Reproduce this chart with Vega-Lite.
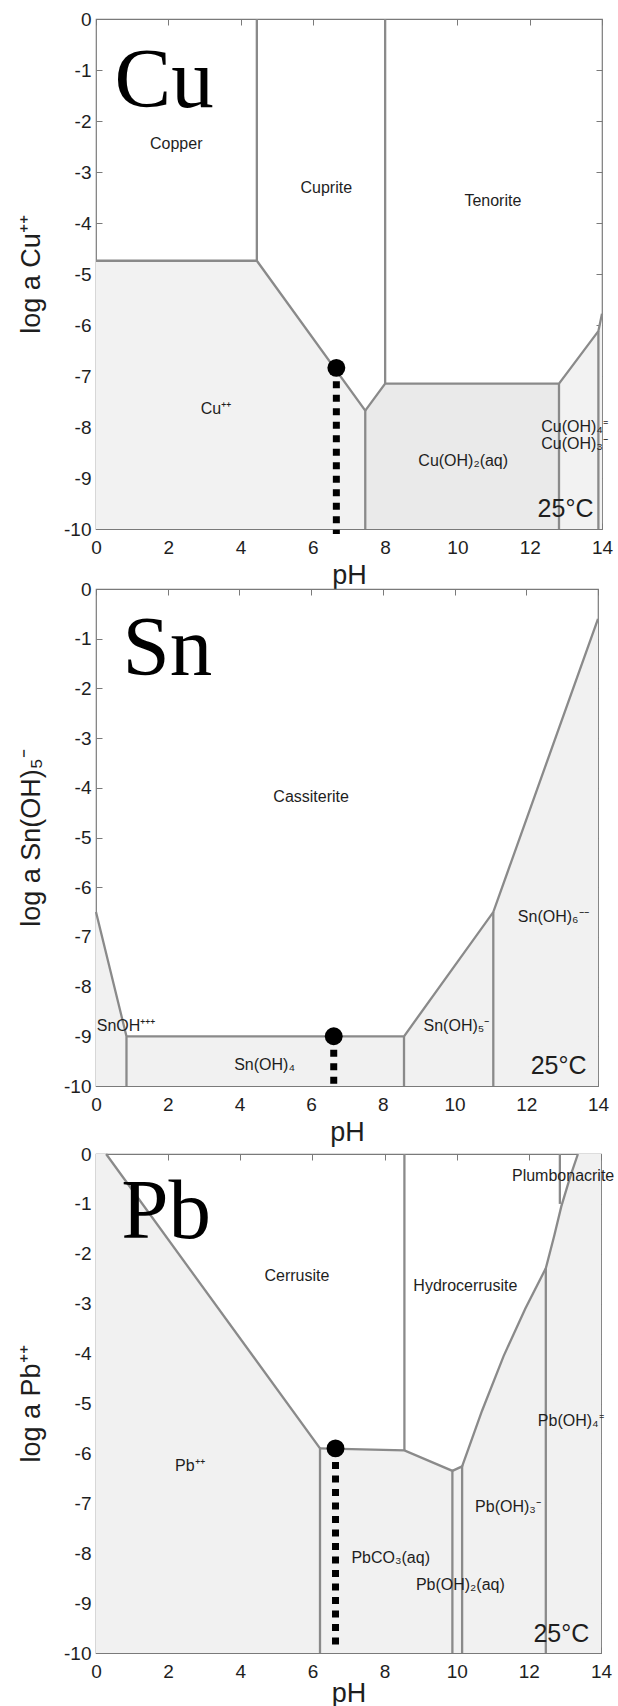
{
  "$schema": "https://vega.github.io/schema/vega-lite/v6.json",
  "background": "white",
  "padding": {"left": 16, "top": 9, "right": 0, "bottom": 0},
  "spacing": -19,
  "config": {
    "view": {"stroke": "#7a7a7a", "strokeWidth": 1.2},
    "axis": {
      "labelFont": "Liberation Sans", "labelFontSize": 19, "labelColor": "#1e1e1e",
      "titleFont": "Liberation Sans", "titleFontSize": 27, "titleFontWeight": "normal", "titleColor": "#1e1e1e",
      "tickColor": "#7a7a7a", "tickSize": -6, "tickWidth": 1, "grid": false, "domain": false,
      "labelFlush": false, "labelOverlap": false
    },
    "axisBottom": {"labelPadding": 15, "titlePadding": 5},
    "axisLeft": {"labelPadding": 11, "titlePadding": 18},
    "text": {"font": "Liberation Sans", "fontSize": 16, "color": "#1e1e1e"}
  },
  "datasets": {
    "cu_aq": [
      {"region": "Cu++", "x": 0, "y": -4.74},
      {"region": "Cu++", "x": 4.45, "y": -4.74},
      {"region": "Cu++", "x": 7.45, "y": -7.68},
      {"region": "Cu(OH)3-", "x": 12.81, "y": -7.15},
      {"region": "Cu(OH)3-", "x": 13.9, "y": -6.12},
      {"region": "Cu(OH)4--", "x": 13.9, "y": -6.12},
      {"region": "Cu(OH)4--", "x": 14, "y": -5.78}
    ],
    "cu_aq2": [
      {"region": "Cu(OH)2(aq)", "x": 7.45, "y": -7.68},
      {"region": "Cu(OH)2(aq)", "x": 8.0, "y": -7.15},
      {"region": "Cu(OH)2(aq)", "x": 12.81, "y": -7.15}
    ],
    "cu_lines": [
      {"seg": 1, "i": 0, "x": 0, "y": -4.74},
      {"seg": 1, "i": 1, "x": 4.45, "y": -4.74},
      {"seg": 1, "i": 2, "x": 7.45, "y": -7.68},
      {"seg": 1, "i": 3, "x": 7.45, "y": -10},
      {"seg": 2, "i": 0, "x": 4.45, "y": 0},
      {"seg": 2, "i": 1, "x": 4.45, "y": -4.74},
      {"seg": 3, "i": 0, "x": 7.45, "y": -7.68},
      {"seg": 3, "i": 1, "x": 8.0, "y": -7.15},
      {"seg": 3, "i": 2, "x": 12.81, "y": -7.15},
      {"seg": 3, "i": 3, "x": 13.9, "y": -6.12},
      {"seg": 3, "i": 4, "x": 14, "y": -5.78},
      {"seg": 4, "i": 0, "x": 8.0, "y": 0},
      {"seg": 4, "i": 1, "x": 8.0, "y": -7.15},
      {"seg": 5, "i": 0, "x": 12.81, "y": -7.15},
      {"seg": 5, "i": 1, "x": 12.81, "y": -10},
      {"seg": 6, "i": 0, "x": 13.9, "y": -6.12},
      {"seg": 6, "i": 1, "x": 13.9, "y": -10}
    ],
    "cu_dot": [{"x": 6.65, "y": -6.84, "y2": -10.1}],
    "cu_labels": [
      {"x": 2.22, "y": -2.45, "label": "Copper"},
      {"x": 6.37, "y": -3.32, "label": "Cuprite"},
      {"x": 10.98, "y": -3.56, "label": "Tenorite"},
      {"x": 3.32, "y": -7.64, "label": "Cu⁺⁺"},
      {"x": 10.16, "y": -8.66, "label": "Cu(OH)₂(aq)"},
      {"x": 13.24, "y": -8.0, "label": "Cu(OH)₄⁼"},
      {"x": 13.24, "y": -8.33, "label": "Cu(OH)₃⁻"}
    ],
    "cu_sym": [{"x": 0.51, "y": -1.73, "label": "Cu"}],
    "cu_t": [{"x": 12.99, "y": -9.6, "label": "25°C"}],

    "sn_aq": [
      {"region": "SnOH+++", "x": 0, "y": -6.5},
      {"region": "SnOH+++", "x": 0.85, "y": -9.0},
      {"region": "Sn(OH)4", "x": 0.85, "y": -9.0},
      {"region": "Sn(OH)4", "x": 8.59, "y": -9.0},
      {"region": "Sn(OH)5-", "x": 8.59, "y": -9.0},
      {"region": "Sn(OH)5-", "x": 11.08, "y": -6.5},
      {"region": "Sn(OH)6--", "x": 11.08, "y": -6.5},
      {"region": "Sn(OH)6--", "x": 14, "y": -0.6}
    ],
    "sn_lines": [
      {"seg": 1, "i": 0, "x": 0, "y": -6.5},
      {"seg": 1, "i": 1, "x": 0.85, "y": -9.0},
      {"seg": 1, "i": 2, "x": 0.85, "y": -10},
      {"seg": 2, "i": 0, "x": 0.85, "y": -9.0},
      {"seg": 2, "i": 1, "x": 8.59, "y": -9.0},
      {"seg": 2, "i": 2, "x": 11.08, "y": -6.5},
      {"seg": 2, "i": 3, "x": 14, "y": -0.6},
      {"seg": 3, "i": 0, "x": 8.59, "y": -9.0},
      {"seg": 3, "i": 1, "x": 8.59, "y": -10},
      {"seg": 4, "i": 0, "x": 11.08, "y": -6.5},
      {"seg": 4, "i": 1, "x": 11.08, "y": -10}
    ],
    "sn_dot": [{"x": 6.63, "y": -9.0, "y2": -10.0}],
    "sn_labels": [
      {"x": 6.0, "y": -4.18, "label": "Cassiterite"},
      {"x": 4.7, "y": -9.57, "label": "Sn(OH)₄"},
      {"x": 10.05, "y": -8.8, "label": "Sn(OH)₅⁻"},
      {"x": 12.75, "y": -6.6, "label": "Sn(OH)₆⁻⁻"}
    ],
    "sn_left": [{"x": 0.02, "y": -8.8, "label": "SnOH⁺⁺⁺"}],
    "sn_sym": [{"x": 0.74, "y": -1.74, "label": "Sn"}],
    "sn_t": [{"x": 12.9, "y": -9.6, "label": "25°C"}],

    "pb_aq": [
      {"region": "Pb++", "x": 0, "y": 0},
      {"region": "Pb++", "x": 0.28, "y": 0},
      {"region": "Pb++", "x": 6.21, "y": -5.9},
      {"region": "PbCO3(aq)", "x": 6.21, "y": -5.9},
      {"region": "PbCO3(aq)", "x": 8.55, "y": -5.94},
      {"region": "PbCO3(aq)", "x": 9.88, "y": -6.35},
      {"region": "Pb(OH)2(aq)", "x": 9.88, "y": -6.35},
      {"region": "Pb(OH)2(aq)", "x": 10.15, "y": -6.26},
      {"region": "Pb(OH)3-", "x": 10.15, "y": -6.26},
      {"region": "Pb(OH)3-", "x": 10.7, "y": -5.15},
      {"region": "Pb(OH)3-", "x": 11.3, "y": -4.05},
      {"region": "Pb(OH)3-", "x": 11.9, "y": -3.1},
      {"region": "Pb(OH)3-", "x": 12.47, "y": -2.29},
      {"region": "Pb(OH)4--", "x": 12.47, "y": -2.29},
      {"region": "Pb(OH)4--", "x": 12.7, "y": -1.65},
      {"region": "Pb(OH)4--", "x": 12.9, "y": -1.05},
      {"region": "Pb(OH)4--", "x": 13.15, "y": -0.45},
      {"region": "Pb(OH)4--", "x": 13.36, "y": 0},
      {"region": "Pb(OH)4--", "x": 14, "y": 0}
    ],
    "pb_lines": [
      {"seg": 1, "i": 0, "x": 0.28, "y": 0},
      {"seg": 1, "i": 1, "x": 6.21, "y": -5.9},
      {"seg": 1, "i": 2, "x": 6.21, "y": -10},
      {"seg": 2, "i": 0, "x": 6.21, "y": -5.9},
      {"seg": 2, "i": 1, "x": 8.55, "y": -5.94},
      {"seg": 2, "i": 2, "x": 9.88, "y": -6.35},
      {"seg": 2, "i": 3, "x": 9.88, "y": -10},
      {"seg": 3, "i": 0, "x": 8.55, "y": 0},
      {"seg": 3, "i": 1, "x": 8.55, "y": -5.94},
      {"seg": 4, "i": 0, "x": 9.88, "y": -6.35},
      {"seg": 4, "i": 1, "x": 10.15, "y": -6.26},
      {"seg": 4, "i": 2, "x": 10.15, "y": -10},
      {"seg": 5, "i": 0, "x": 10.15, "y": -6.26},
      {"seg": 5, "i": 1, "x": 10.7, "y": -5.15},
      {"seg": 5, "i": 2, "x": 11.3, "y": -4.05},
      {"seg": 5, "i": 3, "x": 11.9, "y": -3.1},
      {"seg": 5, "i": 4, "x": 12.47, "y": -2.29},
      {"seg": 5, "i": 5, "x": 12.7, "y": -1.65},
      {"seg": 5, "i": 6, "x": 12.9, "y": -1.05},
      {"seg": 5, "i": 7, "x": 13.15, "y": -0.45},
      {"seg": 5, "i": 8, "x": 13.36, "y": 0},
      {"seg": 6, "i": 0, "x": 12.47, "y": -2.29},
      {"seg": 6, "i": 1, "x": 12.47, "y": -10},
      {"seg": 7, "i": 0, "x": 12.86, "y": 0},
      {"seg": 7, "i": 1, "x": 12.86, "y": -1.0}
    ],
    "pb_dot": [{"x": 6.64, "y": -5.9, "y2": -9.85}],
    "pb_labels": [
      {"x": 5.57, "y": -2.44, "label": "Cerrusite"},
      {"x": 10.24, "y": -2.65, "label": "Hydrocerrusite"},
      {"x": 12.95, "y": -0.44, "label": "Plumbonacrite"},
      {"x": 13.16, "y": -5.36, "label": "Pb(OH)₄⁼"},
      {"x": 2.6, "y": -6.26, "label": "Pb⁺⁺"},
      {"x": 11.42, "y": -7.07, "label": "Pb(OH)₃⁻"},
      {"x": 8.17, "y": -8.1, "label": "PbCO₃(aq)"},
      {"x": 10.1, "y": -8.63, "label": "Pb(OH)₂(aq)"}
    ],
    "pb_sym": [{"x": 0.7, "y": -1.69, "label": "Pb"}],
    "pb_t": [{"x": 12.9, "y": -9.62, "label": "25°C"}]
  },
  "vconcat": [
    {
      "width": 506, "height": 510,
      "resolve": {"axis": {"x": "independent", "y": "independent"}},
      "layer": [
        {"data": {"name": "cu_aq"}, "mark": {"type": "area", "fill": "#f2f2f2"},
         "encoding": {
           "x": {"field": "x", "type": "quantitative", "scale": {"domain": [0, 14], "nice": false, "zero": false}, "axis": {"orient": "bottom", "values": [0,2,4,6,8,10,12,14], "title": "pH"}},
           "y": {"field": "y", "type": "quantitative", "stack": null, "scale": {"domain": [-10, 0], "nice": false, "zero": false}, "axis": {"orient": "left", "values": [0,-1,-2,-3,-4,-5,-6,-7,-8,-9,-10], "labelExpr": "'' + datum.value", "title": "log a Cu⁺⁺"}},
           "y2": {"datum": -10},
           "detail": {"field": "region"}
         }},
        {"data": {"name": "cu_aq2"}, "mark": {"type": "area", "fill": "#eaeaea"},
         "encoding": {
           "x": {"field": "x", "type": "quantitative", "axis": null},
           "y": {"field": "y", "type": "quantitative", "stack": null, "axis": null},
           "y2": {"datum": -10}
         }},
        {"data": {"name": "cu_lines"}, "mark": {"type": "line", "color": "#8a8a8a", "strokeWidth": 2.3},
         "encoding": {
           "x": {"field": "x", "type": "quantitative", "axis": {"orient": "top", "values": [0,2,4,6,8,10,12,14], "labels": false, "title": null}},
           "y": {"field": "y", "type": "quantitative", "axis": {"orient": "right", "values": [0,-1,-2,-3,-4,-5,-6,-7,-8,-9,-10], "labels": false, "title": null}},
           "detail": {"field": "seg"},
           "order": {"field": "i", "type": "quantitative"}
         }},
        {"data": {"name": "cu_dot"}, "mark": {"type": "rule", "color": "black", "strokeWidth": 7, "strokeDash": [7, 6.5]},
         "encoding": {"x": {"field": "x", "type": "quantitative", "axis": null}, "y": {"field": "y", "type": "quantitative", "axis": null}, "y2": {"field": "y2"}}},
        {"data": {"name": "cu_dot"}, "mark": {"type": "point", "shape": "circle", "filled": true, "color": "black", "opacity": 1, "size": 320},
         "encoding": {"x": {"field": "x", "type": "quantitative", "axis": null}, "y": {"field": "y", "type": "quantitative", "axis": null}}},
        {"data": {"name": "cu_labels"}, "mark": {"type": "text"},
         "encoding": {"x": {"field": "x", "type": "quantitative", "axis": null}, "y": {"field": "y", "type": "quantitative", "axis": null}, "text": {"field": "label"}}},
        {"data": {"name": "cu_sym"}, "mark": {"type": "text", "font": "Liberation Serif", "fontSize": 85, "align": "left", "baseline": "alphabetic", "color": "black"},
         "encoding": {"x": {"field": "x", "type": "quantitative", "axis": null}, "y": {"field": "y", "type": "quantitative", "axis": null}, "text": {"field": "label"}}},
        {"data": {"name": "cu_t"}, "mark": {"type": "text", "fontSize": 25},
         "encoding": {"x": {"field": "x", "type": "quantitative", "axis": null}, "y": {"field": "y", "type": "quantitative", "axis": null}, "text": {"field": "label"}}}
      ]
    },
    {
      "width": 502, "height": 497,
      "resolve": {"axis": {"x": "independent", "y": "independent"}},
      "layer": [
        {"data": {"name": "sn_aq"}, "mark": {"type": "area", "fill": "#f1f1f1"},
         "encoding": {
           "x": {"field": "x", "type": "quantitative", "scale": {"domain": [0, 14], "nice": false, "zero": false}, "axis": {"orient": "bottom", "values": [0,2,4,6,8,10,12,14], "title": "pH"}},
           "y": {"field": "y", "type": "quantitative", "stack": null, "scale": {"domain": [-10, 0], "nice": false, "zero": false}, "axis": {"orient": "left", "values": [0,-1,-2,-3,-4,-5,-6,-7,-8,-9,-10], "labelExpr": "'' + datum.value", "title": "log a Sn(OH)₅⁻"}},
           "y2": {"datum": -10},
           "detail": {"field": "region"}
         }},
        {"data": {"name": "sn_lines"}, "mark": {"type": "line", "color": "#8a8a8a", "strokeWidth": 2.3},
         "encoding": {
           "x": {"field": "x", "type": "quantitative", "axis": {"orient": "top", "values": [0,2,4,6,8,10,12,14], "labels": false, "title": null}},
           "y": {"field": "y", "type": "quantitative", "axis": {"orient": "right", "values": [0,-1,-2,-3,-4,-5,-6,-7,-8,-9,-10], "labels": false, "title": null}},
           "detail": {"field": "seg"},
           "order": {"field": "i", "type": "quantitative"}
         }},
        {"data": {"name": "sn_dot"}, "mark": {"type": "rule", "color": "black", "strokeWidth": 7, "strokeDash": [7, 6.5]},
         "encoding": {"x": {"field": "x", "type": "quantitative", "axis": null}, "y": {"field": "y", "type": "quantitative", "axis": null}, "y2": {"field": "y2"}}},
        {"data": {"name": "sn_dot"}, "mark": {"type": "point", "shape": "circle", "filled": true, "color": "black", "opacity": 1, "size": 320},
         "encoding": {"x": {"field": "x", "type": "quantitative", "axis": null}, "y": {"field": "y", "type": "quantitative", "axis": null}}},
        {"data": {"name": "sn_labels"}, "mark": {"type": "text"},
         "encoding": {"x": {"field": "x", "type": "quantitative", "axis": null}, "y": {"field": "y", "type": "quantitative", "axis": null}, "text": {"field": "label"}}},
        {"data": {"name": "sn_left"}, "mark": {"type": "text", "align": "left"},
         "encoding": {"x": {"field": "x", "type": "quantitative", "axis": null}, "y": {"field": "y", "type": "quantitative", "axis": null}, "text": {"field": "label"}}},
        {"data": {"name": "sn_sym"}, "mark": {"type": "text", "font": "Liberation Serif", "fontSize": 85, "align": "left", "baseline": "alphabetic", "color": "black"},
         "encoding": {"x": {"field": "x", "type": "quantitative", "axis": null}, "y": {"field": "y", "type": "quantitative", "axis": null}, "text": {"field": "label"}}},
        {"data": {"name": "sn_t"}, "mark": {"type": "text", "fontSize": 25},
         "encoding": {"x": {"field": "x", "type": "quantitative", "axis": null}, "y": {"field": "y", "type": "quantitative", "axis": null}, "text": {"field": "label"}}}
      ]
    },
    {
      "width": 505, "height": 499,
      "resolve": {"axis": {"x": "independent", "y": "independent"}},
      "layer": [
        {"data": {"name": "pb_aq"}, "mark": {"type": "area", "fill": "#f1f1f1"},
         "encoding": {
           "x": {"field": "x", "type": "quantitative", "scale": {"domain": [0, 14], "nice": false, "zero": false}, "axis": {"orient": "bottom", "values": [0,2,4,6,8,10,12,14], "title": "pH", "titlePadding": -1}},
           "y": {"field": "y", "type": "quantitative", "stack": null, "scale": {"domain": [-10, 0], "nice": false, "zero": false}, "axis": {"orient": "left", "values": [0,-1,-2,-3,-4,-5,-6,-7,-8,-9,-10], "labelExpr": "'' + datum.value", "title": "log a Pb⁺⁺"}},
           "y2": {"datum": -10},
           "detail": {"field": "region"}
         }},
        {"data": {"name": "pb_lines"}, "mark": {"type": "line", "color": "#8a8a8a", "strokeWidth": 2.3},
         "encoding": {
           "x": {"field": "x", "type": "quantitative", "axis": {"orient": "top", "values": [0,2,4,6,8,10,12,14], "labels": true, "labelOpacity": 0, "labelPadding": 12.5, "title": null}},
           "y": {"field": "y", "type": "quantitative", "axis": {"orient": "right", "values": [0,-1,-2,-3,-4,-5,-6,-7,-8,-9,-10], "labels": false, "title": null}},
           "detail": {"field": "seg"},
           "order": {"field": "i", "type": "quantitative"}
         }},
        {"data": {"name": "pb_dot"}, "mark": {"type": "rule", "color": "black", "strokeWidth": 7, "strokeDash": [7, 6.5]},
         "encoding": {"x": {"field": "x", "type": "quantitative", "axis": null}, "y": {"field": "y", "type": "quantitative", "axis": null}, "y2": {"field": "y2"}}},
        {"data": {"name": "pb_dot"}, "mark": {"type": "point", "shape": "circle", "filled": true, "color": "black", "opacity": 1, "size": 320},
         "encoding": {"x": {"field": "x", "type": "quantitative", "axis": null}, "y": {"field": "y", "type": "quantitative", "axis": null}}},
        {"data": {"name": "pb_labels"}, "mark": {"type": "text"},
         "encoding": {"x": {"field": "x", "type": "quantitative", "axis": null}, "y": {"field": "y", "type": "quantitative", "axis": null}, "text": {"field": "label"}}},
        {"data": {"name": "pb_sym"}, "mark": {"type": "text", "font": "Liberation Serif", "fontSize": 85, "align": "left", "baseline": "alphabetic", "color": "black"},
         "encoding": {"x": {"field": "x", "type": "quantitative", "axis": null}, "y": {"field": "y", "type": "quantitative", "axis": null}, "text": {"field": "label"}}},
        {"data": {"name": "pb_t"}, "mark": {"type": "text", "fontSize": 25},
         "encoding": {"x": {"field": "x", "type": "quantitative", "axis": null}, "y": {"field": "y", "type": "quantitative", "axis": null}, "text": {"field": "label"}}}
      ]
    }
  ]
}
